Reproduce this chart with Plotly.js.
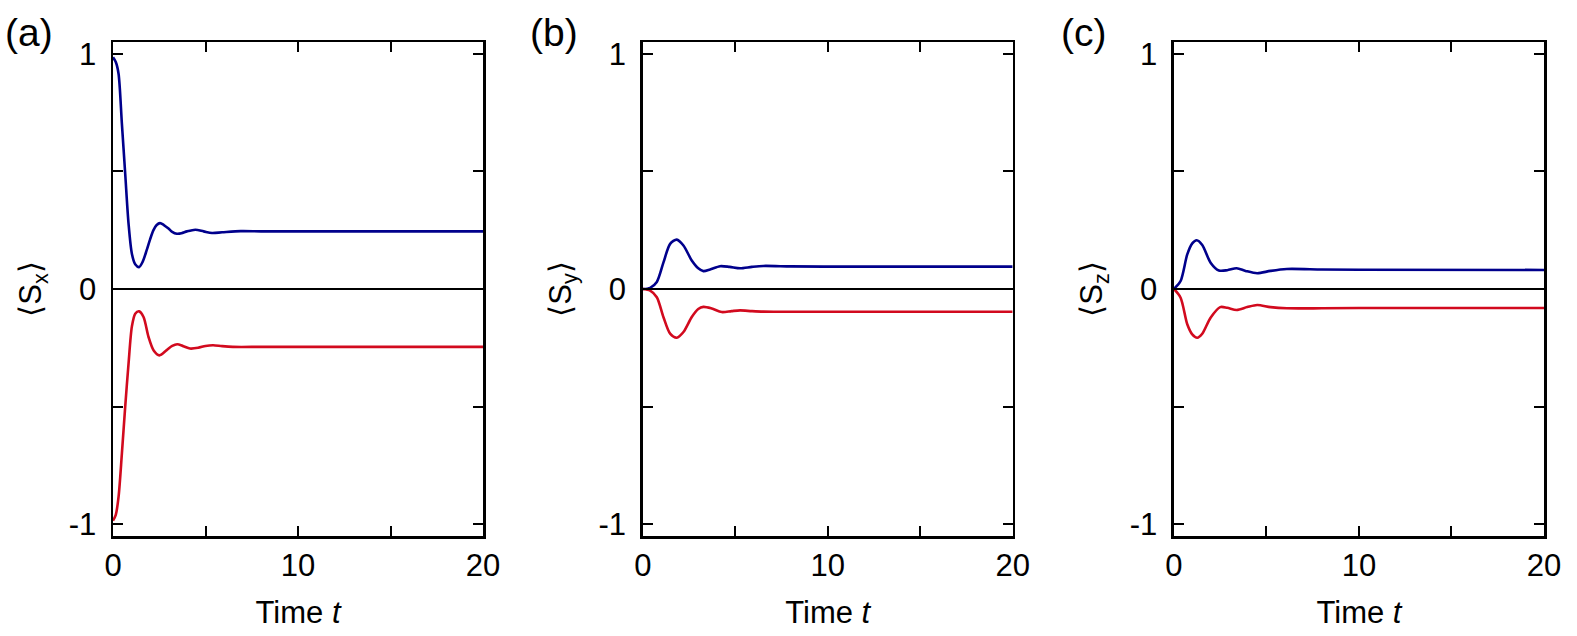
<!DOCTYPE html>
<html>
<head>
<meta charset="utf-8">
<script src="https://cdn.plot.ly/plotly-3.0.1.min.js"></script>
<style>html,body{margin:0;padding:0;background:#fff;}#chart{width:1577px;height:636px;}</style>
</head>
<body>
<div id="chart"></div>
<script>
// ---- Data ----
// Panel (a) <Sx>
const tA_blue = [0, 0.15, 0.3, 0.48, 0.66, 0.84, 1.02, 1.2, 1.41, 1.6, 1.82, 2.0, 2.18, 2.36, 2.54, 2.75, 3.0, 3.2, 3.45, 3.7, 4.0, 4.45, 4.9, 5.35, 5.9, 6.9, 8, 10, 20];
const sxBlue  = [0.985, 0.965, 0.915, 0.703, 0.49, 0.278, 0.15, 0.105, 0.093, 0.115, 0.165, 0.21, 0.249, 0.272, 0.28, 0.272, 0.257, 0.243, 0.235, 0.237, 0.245, 0.252, 0.245, 0.238, 0.241, 0.246, 0.245, 0.245, 0.245];
const tA_red  = [0, 0.15, 0.3, 0.48, 0.66, 0.84, 1.02, 1.2, 1.41, 1.65, 1.92, 2.19, 2.51, 2.9, 3.2, 3.47, 3.8, 4.16, 4.6, 5.0, 5.41, 5.9, 6.48, 8, 10, 20];
const sxRed   = [-0.985, -0.96, -0.884, -0.70, -0.50, -0.317, -0.16, -0.105, -0.095, -0.119, -0.204, -0.26, -0.282, -0.26, -0.242, -0.235, -0.243, -0.253, -0.25, -0.242, -0.239, -0.243, -0.246, -0.246, -0.246, -0.246];

// Panel (b) <Sy>
const tB_blue = [0, 0.4, 0.76, 1.12, 1.48, 1.84, 2.2, 2.65, 3.0, 3.28, 3.64, 4.18, 4.7, 5.26, 5.9, 6.52, 8, 10, 20];
const syBlue  = [0, 0.005, 0.03, 0.113, 0.192, 0.21, 0.185, 0.121, 0.088, 0.076, 0.083, 0.097, 0.094, 0.088, 0.094, 0.098, 0.096, 0.095, 0.095];
const tB_red  = [0, 0.4, 0.76, 1.12, 1.48, 1.84, 2.2, 2.65, 3.0, 3.28, 3.73, 4.27, 4.8, 5.26, 5.9, 6.52, 8, 10, 20];
const syRed   = [0, -0.007, -0.035, -0.12, -0.19, -0.207, -0.183, -0.119, -0.085, -0.076, -0.083, -0.098, -0.094, -0.091, -0.094, -0.096, -0.097, -0.097, -0.097];

// Panel (c) <Sz>
const tC_blue = [0, 0.36, 0.72, 0.99, 1.23, 1.53, 1.98, 2.43, 2.88, 3.39, 3.87, 4.5, 5.22, 6.1, 8, 10, 20];
const szBlue  = [0, 0.034, 0.147, 0.194, 0.207, 0.187, 0.112, 0.079, 0.08, 0.088, 0.077, 0.067, 0.077, 0.085, 0.083, 0.082, 0.081];
const tC_red  = [0, 0.36, 0.72, 0.99, 1.26, 1.53, 1.98, 2.5, 2.88, 3.39, 3.96, 4.5, 5.22, 6.1, 8, 10, 20];
const szRed   = [0, -0.037, -0.15, -0.193, -0.207, -0.19, -0.122, -0.077, -0.08, -0.089, -0.077, -0.068, -0.077, -0.082, -0.082, -0.081, -0.081];

// Ticks and labels
const xTickVals = [0, 10, 20];
const xTickText = ['0', '10', '20'];
const xMinorVals = [5, 15];
const yTickVals = [-1, 0, 1];
const yTickText = ['-1', '0', '1'];
const yMinorVals = [-0.5, 0.5];
const panelLabels = ['(a)', '(b)', '(c)'];
const yTitles = ['⟨S<sub>x</sub>⟩', '⟨S<sub>y</sub>⟩', '⟨S<sub>z</sub>⟩'];
const xTitle = 'Time <i>t</i>';

// ---- Styling ----
const FONT = 'Liberation Sans, Arial, Helvetica, sans-serif';
const BLUE = '#00008c';
const RED = '#d20a1e';

function line(x, y, color, xa, ya) {
  return {x: x, y: y, xaxis: xa, yaxis: ya, type: 'scatter', mode: 'lines',
          line: {color: color, width: 2.6, shape: 'spline', smoothing: 0.8},
          hoverinfo: 'skip', showlegend: false};
}

const traces = [
  line(tA_blue, sxBlue, BLUE, 'x', 'y'),
  line(tA_red, sxRed, RED, 'x', 'y'),
  line(tB_blue, syBlue, BLUE, 'x2', 'y2'),
  line(tB_red, syRed, RED, 'x2', 'y2'),
  line(tC_blue, szBlue, BLUE, 'x3', 'y3'),
  line(tC_red, szRed, RED, 'x3', 'y3')
];

const minorStyle = {ticks: 'inside', ticklen: 10, tickwidth: 2, tickcolor: '#000', showgrid: false, tickmode: 'array'};

function xAxis(domain, anchor) {
  return {domain: domain, anchor: anchor, range: [0, 20],
    tickmode: 'array', tickvals: xTickVals, ticktext: xTickText,
    minor: Object.assign({tickvals: xMinorVals}, minorStyle),
    ticks: 'inside', ticklen: 10, tickwidth: 2, tickcolor: '#000',
    showline: true, linecolor: '#000', linewidth: 2.5, mirror: 'ticks',
    showgrid: false, zeroline: false, ticklabelstandoff: 0,
    tickfont: {family: FONT, size: 31, color: '#000'},
    title: {text: xTitle, standoff: 20, font: {family: FONT, size: 31, color: '#000'}}};
}
function yAxis(anchor, title) {
  return {domain: [0, 1], anchor: anchor, range: [-1.05, 1.05],
    tickmode: 'array', tickvals: yTickVals, ticktext: yTickText,
    minor: Object.assign({tickvals: yMinorVals}, minorStyle),
    ticks: 'inside', ticklen: 10, tickwidth: 2, tickcolor: '#000',
    showline: true, linecolor: '#000', linewidth: 2.5, mirror: 'ticks',
    showgrid: false, zeroline: true, zerolinecolor: '#000', zerolinewidth: 2,
    ticklabelstandoff: 8,
    tickfont: {family: FONT, size: 31, color: '#000'},
    title: {text: title, standoff: 18, font: {family: FONT, size: 31, color: '#000'}}};
}

const labelX = [-0.059, 0.308, 0.678];
const layout = {
  width: 1577, height: 636,
  margin: {l: 113, r: 33, t: 42, b: 100},
  paper_bgcolor: '#fff', plot_bgcolor: '#fff',
  font: {family: FONT, color: '#000'},
  showlegend: false,
  xaxis: xAxis([0, 0.2586], 'y'),
  yaxis: yAxis('x', yTitles[0]),
  xaxis2: xAxis([0.3702, 0.6287], 'y2'),
  yaxis2: yAxis('x2', yTitles[1]),
  xaxis3: xAxis([0.7414, 1.0], 'y3'),
  yaxis3: yAxis('x3', yTitles[2]),
  annotations: panelLabels.map((t, i) => ({
    text: t, xref: 'paper', yref: 'paper', x: labelX[i], y: 1.019,
    xanchor: 'center', yanchor: 'middle', showarrow: false,
    font: {family: FONT, size: 39, color: '#000'}
  }))
};

Plotly.newPlot('chart', traces, layout, {displayModeBar: false, staticPlot: true});
</script>
</body>
</html>
